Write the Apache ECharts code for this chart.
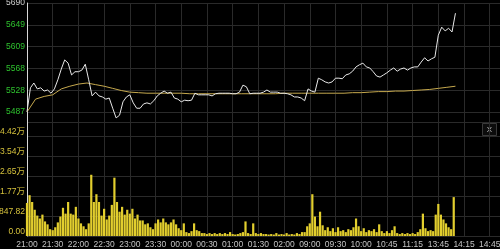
<!DOCTYPE html>
<html>
<head>
<meta charset="utf-8">
<script src="https://cdn.jsdelivr.net/npm/echarts@6/dist/echarts.min.js"></script>
<style>
html,body{margin:0;padding:0;background:#000;}
#c{width:500px;height:249px;}
</style>
</head>
<body>
<div id="c"></div>
<script>
// ---- data ----
const tickLabels = ['21:00','21:30','22:00','22:30','23:00','23:30','00:00','00:30','01:00','01:30','02:00','09:00','09:30','10:00','10:45','11:15','13:45','14:15','14:45'];
const priceTicks = [5487, 5528, 5568, 5609, 5649, 5690];
const volTicks = ['0.00', '8847.82', '1.77万', '2.65万', '3.54万', '4.42万'];

const PRICE_STEP = 4;   // minutes between price samples
const prices = [5487,5532,5541,5530,5532,5526,5528,5522,5530,5547,5567,5584,5578,5556,5562,5562,5565,5576,5547,5517,
5524,5517,5515,5511,5513,5494,5476,5481,5506,5515,5519,5504,5494,5494,5502,5504,5502,5508,5517,5522,
5526,5522,5524,5513,5511,5506,5509,5508,5509,5522,5519,5519,5519,5519,5517,5521,5522,5522,5522,5522,
5521,5521,5524,5537,5534,5521,5522,5522,5522,5524,5528,5524,5524,5524,5522,5522,5521,5519,5515,5515,
5513,5508,5530,5526,5524,5550,5547,5543,5541,5543,5550,5550,5549,5556,5558,5563,5571,5575,5578,5571,
5569,5562,5554,5552,5556,5560,5565,5569,5563,5567,5569,5565,5569,5571,5571,5580,5588,5582,5586,5589,
5630,5645,5638,5643,5636,5671];

const AVG_STEP = 10;
const avgPrices = [5487,5511,5516,5519,5530,5535,5539,5541,5538,5535,5531,5527,5524,5523,5522,5522,5522,5522,5522,5521,
5521,5521,5521,5521,5521,5521,5521,5521,5521,5521,5522,5522,5522,5522,5522,5522,5522,5522,5523,5523,
5524,5525,5525,5526,5526,5527,5528,5529,5531,5533,5535];

const VOL_STEP = 3;
const volumes = [14620,18060,15050,11610,9030,7740,9460,6450,5160,3010,2580,3870,6020,8600,12470,9890,15050,9890,9460,12900,
7740,5590,4300,3010,5590,27090,15050,18490,15050,9030,12040,7310,9030,13760,25800,15050,10750,12900,9460,11610,
9890,12040,7740,9460,6880,6880,5160,5590,3870,3010,5590,7310,6020,7740,6020,5160,6020,7310,5160,3440,
2580,5590,1720,1290,2150,5590,2580,2150,1290,1290,860,1290,860,1290,860,1290,860,1290,860,1720,
860,650,860,1290,1720,6450,1290,860,5590,1290,860,1290,860,860,650,860,650,1290,650,860,
650,1290,650,860,650,1290,860,1720,1720,4300,5590,18490,8600,4300,10750,4730,2580,3870,2150,3440,
1720,3870,2150,2580,1720,3010,2580,3870,7740,4300,2150,3440,1720,2580,2150,3010,1720,5160,2150,1290,
2150,1290,2580,4300,1290,860,1290,860,1290,860,1290,860,1720,3010,9890,3440,2150,2580,2150,9460,
14190,9460,7310,5590,3870,3010,17200];

// ---- layout constants ----
const BASE = priceTicks[0];
const PSTEP = (priceTicks[priceTicks.length-1] - priceTicks[0]) / (priceTicks.length - 1);
const VSTEP = 8847.82;
const FONT = '"Liberation Sans", Arial, "Noto Sans CJK SC", sans-serif';
const GRIDC = '#2a2a2a';

const chart = echarts.init(document.getElementById('c'), null, {renderer:'canvas'});
const xCommon = {
  type:'value', min:0, max:552, interval:30,
  axisLine:{show:false}, axisTick:{show:false},
  splitLine:{show:true, lineStyle:{color:GRIDC, width:1}}
};
chart.setOption({
  backgroundColor:'#000',
  animation:false,
  grid:[
    {left:27, right:0, top:3, height:130.8, containLabel:false, outerBoundsMode:'none'},
    {left:27, right:0, top:122, height:114, containLabel:false, outerBoundsMode:'none'}
  ],
  xAxis:[
    Object.assign({gridIndex:0, axisLabel:{show:false}}, xCommon),
    Object.assign({gridIndex:1, axisLabel:{
      show:true, color:'#c4c4c4', fontSize:8.5, fontFamily:FONT, margin:4,
      showMaxLabel:false,
      formatter:function(v){ const i=Math.round(v/30); return (Math.abs(v-i*30)<1e-6 && tickLabels[i]) ? tickLabels[i] : ''; }
    }}, xCommon)
  ],
  yAxis:[
    {type:'value', gridIndex:0, min:-PSTEP, max:PSTEP*5, interval:PSTEP,
     axisLine:{show:true, lineStyle:{color:'#d8d8d8', width:1}}, axisTick:{show:false},
     splitLine:{show:true, showMinLine:false, lineStyle:{color:GRIDC}},
     axisLabel:{showMinLabel:false, fontSize:8.5, fontFamily:FONT, margin:2,
       formatter:function(v){ const i=Math.round(v/PSTEP); return priceTicks[i]!==undefined ? String(priceTicks[i]) : ''; },
       color:function(v){ return Math.round(v/PSTEP)===5 ? '#d0d0d0' : '#2ec22e'; }}
    },
    {type:'value', gridIndex:1, min:0, max:VSTEP*5*1.14, interval:VSTEP,
     axisLine:{show:true, lineStyle:{color:'#d8d8d8', width:1}}, axisTick:{show:false},
     splitLine:{show:true, lineStyle:{color:GRIDC}},
     axisLabel:{showMaxLabel:false, fontSize:8.5, fontFamily:FONT, margin:2, color:'#d6c23c',
       verticalAlign:'bottom',
       formatter:function(v){ const i=Math.round(v/VSTEP); return volTicks[i]!==undefined ? volTicks[i] : ''; }}
    }
  ],
  series:[
    {type:'bar', xAxisIndex:1, yAxisIndex:1, barWidth:2.2,
     itemStyle:{color:'#e2ce2e'},
     data: volumes.map((v,k)=>[k*VOL_STEP, v])},
    {type:'line', xAxisIndex:0, yAxisIndex:0, showSymbol:false, z:3,
     lineStyle:{color:'#c6a94e', width:1},
     data: avgPrices.map((p,k)=>[k*AVG_STEP, p-BASE])},
    {type:'line', xAxisIndex:0, yAxisIndex:0, showSymbol:false, z:4,
     lineStyle:{color:'#e8e8e8', width:1},
     data: prices.map((p,k)=>[k*PRICE_STEP, p-BASE])}
  ],
  graphic:[
    {type:'group', right:3, top:123, children:[
      {type:'rect', shape:{x:0,y:0,width:14,height:12}, style:{fill:'#0c0c0c', stroke:'#3a3a3a', lineWidth:1}},
      {type:'text', x:7, y:6, style:{text:'X', fill:'#bdbdbd', font:'8px '+FONT, align:'center', verticalAlign:'middle'}}
    ]}
  ]
});
</script>
</body>
</html>
